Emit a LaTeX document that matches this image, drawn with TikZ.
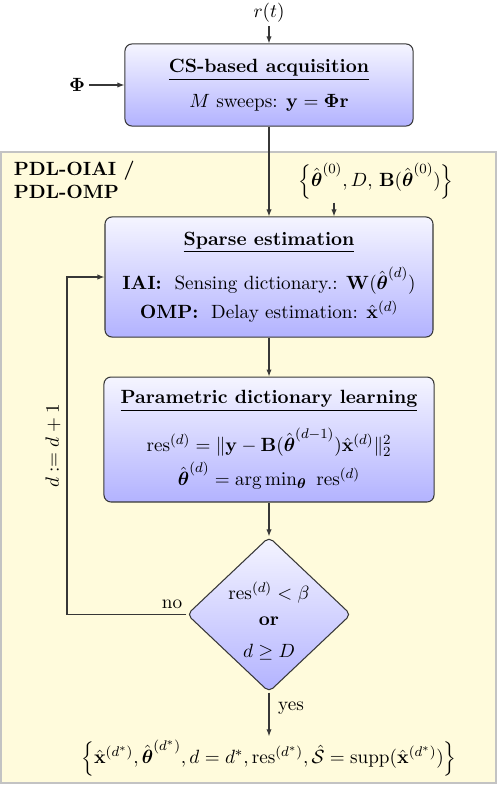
\documentclass[11pt,tikz,border=0pt]{standalone}
\usepackage{amsmath,amssymb}
\usetikzlibrary{arrows.meta,shapes.geometric,calc}
\definecolor{bgyellow}{RGB}{255,251,220}
\definecolor{bgborder}{RGB}{195,195,195}
\definecolor{linec}{RGB}{55,55,55}
\tikzset{
  procbox/.style={draw=linec, line width=0.6pt, rounded corners=4pt, top color=blue!4, bottom color=blue!30, align=center, inner sep=0pt},
  decbox/.style={draw=linec, line width=0.6pt, shape=diamond, rounded corners=3pt, top color=blue!4, bottom color=blue!30, align=center, inner sep=0pt, minimum width=93.7pt, minimum height=88.6pt},
  arr/.style={draw=linec, line width=0.6pt, -{Latex[length=4pt,width=3pt]}},
  ln/.style={draw=linec, line width=0.6pt},
  lbl/.style={inner sep=2pt}
}
\begin{document}
\begin{tikzpicture}[x=0.5714pt,y=-0.5714pt]
\useasboundingbox (0,0) rectangle (498,785);
% background
\draw[draw=bgborder, fill=bgyellow, line width=1.1pt] (1,152) rectangle (496,783);
\node[lbl, anchor=west, align=left] (pdl) at (10,180) {\textbf{PDL-OIAI /}\\\textbf{PDL-OMP}};

\node[lbl] (rt) at (269,13) {$r(t)$};
\node[procbox, minimum width=164.6pt, minimum height=46.9pt] (acq) at (269,85)
  {\underline{\textbf{CS-based acquisition}}\\[6.2pt] $M$ sweeps: $\mathbf{y} = \boldsymbol{\Phi}\mathbf{r}$};
\node[lbl] (phi) at (77,85) {$\boldsymbol{\Phi}$};

\node[lbl] (init) at (376,181) {$\left\{\hat{\boldsymbol{\theta}}^{(0)}, D,\, \mathbf{B}(\hat{\boldsymbol{\theta}}^{(0)})\right\}$};
\coordinate (ia) at (334,0);

\node[procbox, minimum width=187.4pt, minimum height=68.6pt] (sparse) at (269,277)
  {\underline{\textbf{Sparse estimation}}\\[7pt]
   \textbf{IAI:}~ Sensing dictionary.: $\mathbf{W}(\hat{\boldsymbol{\theta}}^{(d)})$\\[2.7pt]
   \textbf{OMP:}~ Delay estimation: $\hat{\mathbf{x}}^{(d)}$};

\node[procbox, minimum width=188.6pt, minimum height=71.4pt] (pdlbox) at (269,439.5)
  {\underline{\textbf{Parametric dictionary learning}}\\[8.7pt]
   $\mathrm{res}^{(d)} = \|\mathbf{y}-\mathbf{B}(\hat{\boldsymbol{\theta}}^{(d-1)})\hat{\mathbf{x}}^{(d)}\|_2^2$\\[2.1pt]
   $\hat{\boldsymbol{\theta}}^{(d)} = \arg\min_{\boldsymbol{\theta}}\ \mathrm{res}^{(d)}$};

\node[decbox] (dec) at (269,614.5) {};
\node[lbl, align=center] (dectext) at (269,621)
  {$\mathrm{res}^{(d)} < \beta$\\[1.5pt] \textbf{or}\\[4.5pt] $d \geq D$};

\node[lbl] (final) at (269,758) {$\left\{\hat{\mathbf{x}}^{(d^*)}, \hat{\boldsymbol{\theta}}^{(d^*)}, d = d^*, \mathrm{res}^{(d^*)}, \hat{\mathcal{S}} = \mathrm{supp}(\hat{\mathbf{x}}^{(d^*)})\right\}$};

\coordinate (fbx) at (67,0);

% connectors
\draw[arr] (rt.south) -- (acq.north);
\draw[arr] (phi.east) -- (acq.west);
\draw[arr] (acq.south) -- (sparse.north);
\draw[arr] (init.south -| ia) -- (sparse.north -| ia);
\draw[arr] (sparse.south) -- (pdlbox.north);
\draw[arr] (pdlbox.south) -- (dec.north);
\draw[arr] (dec.west) -- (dec.west -| fbx) -- (fbx |- sparse.west) -- (sparse.west);
\node[lbl] (no) at (172,604) {no};
\node[lbl, rotate=90] (inc) at (53,446) {$d := d+1$};
\draw[arr] (dec.south) -- (final.north);
\node[lbl] (yes) at (291,708) {yes};
\end{tikzpicture}
\end{document}
